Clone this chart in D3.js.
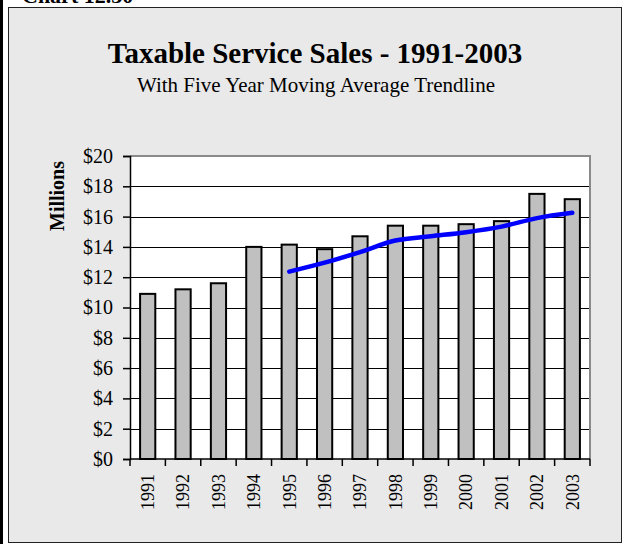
<!DOCTYPE html>
<html>
<head>
<meta charset="utf-8">
<script src="https://cdn.jsdelivr.net/npm/d3@7"></script>
<style>
  html, body { margin: 0; padding: 0; background: #ffffff; }
  svg { display: block; }
  text { font-family: "Liberation Serif", "Times New Roman", serif; fill: #000; }
</style>
</head>
<body>
<script>
const years = ["1991","1992","1993","1994","1995","1996","1997","1998","1999","2000","2001","2002","2003"];
const sales = [10.9, 11.2, 11.6, 14.0, 14.15, 13.85, 14.7, 15.4, 15.4, 15.5, 15.7, 17.5, 17.15];
const movingAvg = [null, null, null, null, 12.37, 12.96, 13.66, 14.42, 14.7, 14.97, 15.34, 15.9, 16.25];
const yTicks = [0, 2, 4, 6, 8, 10, 12, 14, 16, 18, 20];
const titleText = "Taxable Service Sales - 1991-2003";
const subtitleText = "With Five Year Moving Average Trendline";
const yAxisLabel = "Millions";
const headerText = "Chart 12.30";

(function () {
const W = 629, H = 544;
const svg = d3.select("body").append("svg").attr("width", W).attr("height", H);

// page header (partly cut off)
svg.append("text").attr("x", 22).attr("y", 3)
  .attr("font-size", 22).attr("font-weight", "bold").text(headerText);
// left black page bar
svg.append("rect").attr("x", 0).attr("y", 0).attr("width", 3).attr("height", H).attr("fill", "#000");

// chart frame
svg.append("rect").attr("x", 8.5).attr("y", 7.5).attr("width", 613).attr("height", 535)
  .attr("fill", "#e9e9e9").attr("stroke", "#222").attr("stroke-width", 1);

// titles
svg.append("text").attr("x", 315).attr("y", 63).attr("text-anchor", "middle")
  .attr("font-size", 29).attr("font-weight", "bold").text(titleText);
svg.append("text").attr("x", 316).attr("y", 92).attr("text-anchor", "middle")
  .attr("font-size", 21).text(subtitleText);

// plot area
const pLeft = 130, pRight = 590, pTop = 156, pBottom = 459;
const x = d3.scaleBand().domain(years).range([pLeft, pRight]).padding(0);
const y = d3.scaleLinear().domain([0, 20]).range([pBottom, pTop]);
const step = x.step();
const bw = step * 0.43;

svg.append("rect").attr("x", pLeft).attr("y", pTop).attr("width", pRight - pLeft).attr("height", pBottom - pTop)
  .attr("fill", "#ffffff");

// gridlines
svg.append("g").selectAll("line").data(yTicks.filter(d => d > 0 && d < 20)).join("line")
  .attr("x1", pLeft).attr("x2", pRight)
  .attr("y1", d => Math.round(y(d)) + 0.5).attr("y2", d => Math.round(y(d)) + 0.5)
  .attr("stroke", "#000").attr("stroke-width", 1);

// plot border top / right (gray)
svg.append("path")
  .attr("d", `M${pLeft},${pTop} H${pRight} V${pBottom}`)
  .attr("fill", "none").attr("stroke", "#8a8a8a").attr("stroke-width", 2);

// bars
svg.append("g").selectAll("rect").data(years).join("rect")
  .attr("x", (d) => x(d) + (step - bw) / 2)
  .attr("y", (d, i) => y(sales[i]))
  .attr("width", bw)
  .attr("height", (d, i) => pBottom - y(sales[i]))
  .attr("fill", "#c0c0c0").attr("stroke", "#000").attr("stroke-width", 2);

// moving average line
const pts = years.map((d, i) => [d, movingAvg[i]]).filter(p => p[1] !== null);
const line = d3.line().x(p => x(p[0]) + step / 2).y(p => y(p[1])).curve(d3.curveMonotoneX);
svg.append("path").datum(pts).attr("d", line)
  .attr("fill", "none").attr("stroke", "#0000ff").attr("stroke-width", 4.5)
  .attr("stroke-linejoin", "round").attr("stroke-linecap", "round");

// y axis
const yAxis = svg.append("g").attr("transform", `translate(${pLeft},0)`)
  .call(d3.axisLeft(y).tickValues(yTicks).tickFormat(d => "$" + d).tickSize(7).tickPadding(10));
yAxis.select(".domain").attr("stroke", "#000").attr("stroke-width", 1.5);
yAxis.selectAll(".tick line").attr("stroke", "#000").attr("stroke-width", 1.5);
yAxis.selectAll("text").attr("font-size", 20).attr("font-family", "Liberation Serif, serif").attr("fill", "#000");

// x axis
const xAxisG = svg.append("g").attr("transform", `translate(0,${pBottom})`);
xAxisG.append("line").attr("x1", pLeft).attr("x2", pRight).attr("stroke", "#000").attr("stroke-width", 1.5);
const tickPos = years.map(d => x(d)).concat([pRight]);
xAxisG.selectAll("line.tk").data(tickPos).join("line").attr("class", "tk")
  .attr("x1", d => d).attr("x2", d => d).attr("y1", 0).attr("y2", 7)
  .attr("stroke", "#000").attr("stroke-width", 1.5);
xAxisG.selectAll("text").data(years).join("text")
  .attr("transform", d => `translate(${x(d) + step / 2},15) rotate(-90)`)
  .attr("text-anchor", "end").attr("dy", "0.35em")
  .attr("font-size", 18).text(d => d);

// y axis title
svg.append("text").attr("transform", "translate(57,196) rotate(-90)")
  .attr("text-anchor", "middle").attr("dy", "0.35em")
  .attr("font-size", 20).attr("font-weight", "bold").text(yAxisLabel);
})();
</script>
</body>
</html>
